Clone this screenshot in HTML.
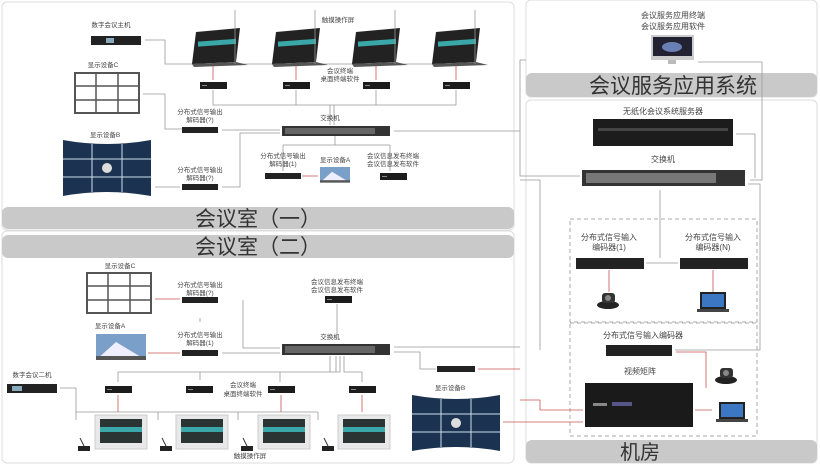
<!DOCTYPE html>
<html><head><meta charset="utf-8"><style>
body{margin:0;background:#fff;}
svg{display:block;font-family:"Liberation Sans","Noto Sans CJK SC",sans-serif;}
.s{font-size:6.5px;fill:#444;text-anchor:middle}
.m{font-size:9.5px;fill:#333;text-anchor:middle}
.ln{stroke:#999;stroke-width:0.8;fill:none}
.rl{stroke:#c55;stroke-width:0.8;fill:none}
</style></head><body>
<svg width="820" height="466" viewBox="0 0 820 466" xmlns="http://www.w3.org/2000/svg">
<defs>
<g id="box"><rect width="27" height="7" fill="#1c1c1c"/><rect x="2" y="3" width="5" height="1" fill="#888"/></g>
<g id="dec"><rect width="36" height="6" fill="#222"/></g>
<g id="lift"><polygon points="4,0 48,-4 44,30 0,32" fill="#222"/><rect x="6" y="10" width="38" height="5" fill="#3aa7a8" transform="skewY(-4)"/><polygon points="0,32 44,30 56,33 2,35" fill="#555"/></g>
<g id="mon"><rect width="52" height="34" fill="#e8e8e8" stroke="#ccc"/><rect x="5" y="4" width="42" height="24" fill="#2a3533"/><rect x="5" y="12" width="42" height="5" fill="#3aa7a8"/></g>
<g id="wall"><rect width="64" height="40" fill="#fff" stroke="#555" stroke-width="2"/><path d="M21 0V40M43 0V40M0 13H64M0 27H64" stroke="#555" stroke-width="1.5"/></g>
<g id="curve"><path d="M0 0 Q44 8 88 0 V56 Q44 48 0 56Z" fill="#1b3350"/><path d="M29 4V52M59 4V52M0 19H88M0 37H88" stroke="#cde" stroke-width="1"/><circle cx="44" cy="28" r="5" fill="#ddd"/></g>
<g id="tv"><rect width="50" height="26" fill="#7a9fc8"/><polygon points="0,26 20,8 30,14 50,26" fill="#eef"/><rect x="0" y="22" width="50" height="4" fill="#555"/></g>
<g id="mic"><path d="M6 0 L10 8" stroke="#333" stroke-width="1"/><rect x="4" y="8" width="12" height="5" fill="#222"/></g>
<g id="cam"><ellipse cx="10" cy="14" rx="11" ry="4" fill="#222"/><rect x="4" y="2" width="13" height="10" rx="3" fill="#333"/><circle cx="10" cy="7" r="3" fill="#888"/></g>
<g id="lap"><rect x="3" y="0" width="26" height="17" fill="#222"/><rect x="5" y="2" width="22" height="13" fill="#3c77c4"/><rect x="0" y="17" width="32" height="3" fill="#444"/></g>
</defs>

<rect x="2" y="2" width="512" height="228" rx="5" fill="#fff" stroke="#ddd"/>
<rect x="2" y="231" width="512" height="232" rx="5" fill="#fff" stroke="#ddd"/>
<rect x="526" y="0" width="291" height="97" rx="5" fill="#fff" stroke="#ddd"/>
<rect x="526" y="100" width="291" height="363" rx="5" fill="#fff" stroke="#ddd"/>
<rect x="2" y="207" width="512" height="22" rx="6" fill="#c9c9c9"/>
<text x="258" y="226" class="m" style="font-size:21px">会议室（一）</text>
<rect x="2" y="235" width="512" height="23" rx="6" fill="#c9c9c9"/>
<text x="258" y="254" class="m" style="font-size:21px">会议室（二）</text>
<rect x="526" y="73" width="291" height="24" rx="6" fill="#c9c9c9"/>
<text x="673" y="93" class="m" style="font-size:21px">会议服务应用系统</text>
<rect x="526" y="440" width="291" height="23" rx="6" fill="#c9c9c9"/>
<text x="640" y="459" class="m" style="font-size:20px">机房</text>

<!-- Room 1 -->
<text x="111" y="27" class="s">数字会议主机</text>
<rect x="91" y="36" width="50" height="9" fill="#222"/><rect x="106" y="38" width="8" height="5" fill="#8ab"/>
<path class="ln" d="M145 40H165V64H478"/>
<text x="338" y="22" class="s">触摸操作屏</text>
<g transform="translate(192,32)"><use href="#lift"/></g>
<g transform="translate(272,32)"><use href="#lift"/></g>
<g transform="translate(352,32)"><use href="#lift"/></g>
<g transform="translate(432,32)"><use href="#lift"/></g>
<path class="ln" d="M235 10V64M315 10V64M395 10V64M475 10V64"/>
<path class="rl" d="M213 66V80M296 66V80M376 66V80M456 66V80"/>
<text x="340" y="73" class="s">会议终端</text><text x="340" y="81" class="s">桌面终端软件</text>
<use href="#box" x="200" y="82"/><use href="#box" x="283" y="82"/><use href="#box" x="363" y="82"/><use href="#box" x="443" y="82"/>
<path class="ln" d="M213 90V105H456V90M296 90V105M376 90V105M330 105V125M334 105V125"/>
<text x="103" y="67" class="s">显示设备C</text>
<use href="#wall" x="75" y="73"/>
<path class="ln" d="M143 94H165V129H182"/>
<text x="200" y="114" class="s">分布式信号输出</text><text x="200" y="122" class="s">解码器(?)</text>
<use href="#dec" x="182" y="127"/>
<path class="ln" d="M222 130H280"/>
<text x="330" y="120" class="s">交换机</text>
<rect x="282" y="126" width="108" height="10" fill="#333"/><rect x="285" y="128" width="90" height="6" fill="#666"/>
<path class="ln" d="M394 131H520V60H526"/>
<text x="105" y="137" class="s">显示设备B</text>
<use href="#curve" x="63" y="140"/>
<text x="200" y="172" class="s">分布式信号输出</text><text x="200" y="180" class="s">解码器(?)</text>
<use href="#dec" x="182" y="184"/>
<path class="ln" d="M155 187H180M222 187H240V133H280"/>
<path class="ln" d="M283 145H390M283 145V171M390 145V171M335 136V145"/>
<text x="283" y="158" class="s">分布式信号输出</text><text x="283" y="166" class="s">解码器(1)</text>
<use href="#dec" x="265" y="173"/>
<text x="335" y="162" class="s">显示设备A</text>
<use href="#tv" x="320" y="167" transform="translate(320,167) scale(0.6) translate(-320,-167)"/>
<path class="rl" d="M302 176H318"/>
<text x="393" y="158" class="s">会议信息发布终端</text><text x="393" y="166" class="s">会议信息发布软件</text>
<use href="#box" x="380" y="173"/>

<!-- Room 2 -->
<text x="120" y="268" class="s">显示设备C</text>
<use href="#wall" x="87" y="273"/>
<path class="rl" d="M155 299H180"/>
<text x="200" y="287" class="s">分布式信号输出</text><text x="200" y="295" class="s">解码器(?)</text>
<use href="#dec" x="182" y="297"/>
<path class="ln" d="M243 300V348H280M200 318V322"/>
<text x="110" y="328" class="s">显示设备A</text>
<use href="#tv" x="96" y="334"/>
<text x="200" y="337" class="s">分布式信号输出</text><text x="200" y="345" class="s">解码器(1)</text>
<use href="#dec" x="182" y="350"/>
<path class="rl" d="M148 353H180"/><path class="ln" d="M222 353H280"/>
<text x="337" y="284" class="s">会议信息发布终端</text><text x="337" y="292" class="s">会议信息发布软件</text>
<use href="#box" x="325" y="296"/>
<path class="ln" d="M337 304V340"/>
<text x="330" y="339" class="s">交换机</text>
<rect x="282" y="344" width="108" height="11" fill="#333"/><rect x="285" y="346" width="90" height="7" fill="#666"/>
<path class="ln" d="M394 347H520M394 352H420V369H436"/>
<rect x="437" y="366" width="38" height="6" fill="#222"/>
<path class="rl" d="M478 369H520"/>
<path class="ln" d="M330 356V372H118V382M336 356V372H200V380M340 356V372H280V382M344 356V372H362V382"/>
<text x="32" y="377" class="s">数字会议二机</text>
<rect x="7" y="384" width="50" height="9" fill="#222"/><rect x="12" y="386" width="10" height="5" fill="#8ab"/>
<path class="ln" d="M60 388H76V412H318M76 412V420M158 412V420M238 412V420M318 412V420"/>
<use href="#box" x="105" y="386"/><use href="#box" x="186" y="386"/><use href="#box" x="268" y="386"/><use href="#box" x="349" y="386"/>
<text x="243" y="387" class="s">会议终端</text><text x="243" y="396" class="s">桌面终端软件</text>
<path class="rl" d="M118 395V412M281 395V412M362 395V412"/>
<use href="#mon" x="95" y="415"/><use href="#mon" x="176" y="415"/><use href="#mon" x="258" y="415"/><use href="#mon" x="338" y="415"/>
<use href="#mic" x="74" y="438"/><use href="#mic" x="156" y="438"/><use href="#mic" x="237" y="438"/><use href="#mic" x="318" y="438"/>
<text x="250" y="458" class="s">触摸操作屏</text>
<text x="450" y="390" class="s">显示设备B</text>
<use href="#curve" x="412" y="395"/>
<path class="rl" d="M503 422H520"/>

<!-- Right -->
<text x="673" y="18" class="s" style="font-size:8px">会议服务应用终端</text>
<text x="673" y="29" class="s" style="font-size:8px">会议服务应用软件</text>
<rect x="651" y="35" width="43" height="25" fill="#ccc"/><rect x="653" y="37" width="39" height="19" fill="#223"/><ellipse cx="672" cy="47" rx="10" ry="5" fill="#6a7fb5"/><rect x="668" y="60" width="8" height="4" fill="#bbb"/>
<path class="ln" d="M698 62H762V180H750"/>
<text x="663" y="114" class="s" style="font-size:8px">无纸化会议系统服务器</text>
<rect x="593" y="119" width="140" height="27" fill="#1c1c1c"/><rect x="598" y="128" width="130" height="3" fill="#444"/>
<path class="ln" d="M736 134H755V178"/>
<text x="663" y="162" class="s" style="font-size:8px">交换机</text>
<rect x="582" y="170" width="163" height="16" fill="#333"/><rect x="586" y="173" width="130" height="10" fill="#777"/>
<path class="ln" d="M520 131V176H580M520 180H540V350M748 184H760V350H675"/>
<path class="ln" d="M660 190V258"/>
<rect x="570" y="219" width="187" height="103" fill="none" stroke="#aaa" stroke-dasharray="4,3"/>
<rect x="570" y="323" width="187" height="113" fill="none" stroke="#aaa" stroke-dasharray="4,3"/>
<text x="609" y="240" class="s" style="font-size:8px">分布式信号输入</text><text x="609" y="250" class="s" style="font-size:8px">编码器(1)</text>
<text x="713" y="240" class="s" style="font-size:8px">分布式信号输入</text><text x="713" y="250" class="s" style="font-size:8px">编码器(N)</text>
<rect x="576" y="258" width="68" height="11" fill="#222"/><rect x="680" y="258" width="68" height="11" fill="#222"/>
<path class="ln" d="M646 263H678"/>
<path class="rl" d="M609 270V292M713 270V292"/>
<use href="#cam" x="598" y="291"/><use href="#lap" x="697" y="292"/>
<text x="643" y="338" class="s" style="font-size:8px">分布式信号输入编码器</text>
<rect x="606" y="345" width="66" height="11" fill="#222"/>
<text x="640" y="374" class="s" style="font-size:8px">视频矩阵</text>
<rect x="585" y="383" width="108" height="44" fill="#1a1a1a"/><rect x="593" y="403" width="14" height="3" fill="#888"/><rect x="612" y="402" width="20" height="4" fill="#558"/>
<path class="rl" d="M520 400H540V410H583M520 422H583M695 410H712M676 352H706V388"/>
<use href="#cam" x="716" y="366"/><use href="#lap" x="716" y="402"/>
</svg>
</body></html>
